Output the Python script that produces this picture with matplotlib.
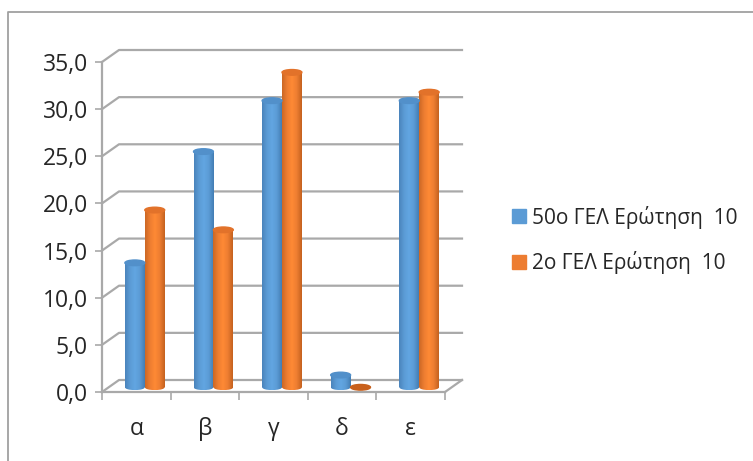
import numpy as np
import matplotlib
matplotlib.use('Agg')
import matplotlib.pyplot as plt
from matplotlib.colors import LinearSegmentedColormap
from matplotlib.patches import Ellipse, Patch
from matplotlib.lines import Line2D

plt.rcParams['font.family'] = ['Open Sans', 'DejaVu Sans']

categories = ['α', 'β', 'γ', 'δ', 'ε']
series_50 = [13.2, 25.0, 30.4, 1.3, 30.4]
series_2 = [18.8, 16.7, 33.4, 0.0, 31.3]
y_ticks = [0, 5, 10, 15, 20, 25, 30, 35]
y_labels = ['0,0', '5,0', '10,0', '15,0', '20,0', '25,0', '30,0', '35,0']
legend_labels = ['50ο ΓΕΛ Ερώτηση  10', '2ο ΓΕΛ Ερώτηση  10']

W, H = 753, 461
fig = plt.figure(figsize=(W / 100, H / 100), dpi=100)

# front plane of the fake 3d box
ax = fig.add_axes([102 / W, 1 - 392 / H, 343 / W, 330 / H])
ax.set_xlim(0, 5)
ax.set_ylim(0, 35)

# depth of the box in data units
depth_x = 17 / 68.6
depth_y = 12 / 9.43
grid_col = '#A9A9A9'

for v in y_ticks:
    ax.plot([0, depth_x, 5 + depth_x], [v, v + depth_y, v + depth_y], color=grid_col, lw=1.6, clip_on=False, zorder=1)
ax.plot([5, 5 + depth_x], [0, depth_y], color=grid_col, lw=1.6, clip_on=False, zorder=1)

blue = LinearSegmentedColormap.from_list('b', ['#4A84BC', '#5B9BD5', '#62A6E2', '#5B9BD5', '#437DB4'])
orange = LinearSegmentedColormap.from_list('o', ['#CC6825', '#ED7D31', '#FF8A35', '#ED7D31', '#C4621F'])
grad = np.linspace(0, 1, 64).reshape(1, -1)


def cylinder(x0, value, cmap, top_col):
    w = 0.29
    base = 0.5
    h = 0.6
    bot = Ellipse((x0 + w / 2, base), w, h, color='none', zorder=3)
    ax.add_patch(bot)
    im = ax.imshow(grad, extent=[x0, x0 + w, base - h / 2, base], cmap=cmap, aspect='auto', zorder=3)
    im.set_clip_path(bot)
    if value > 0:
        im = ax.imshow(grad, extent=[x0, x0 + w, base, base + value], cmap=cmap, aspect='auto', zorder=3)
        im.set_clip_on(False)
    ax.add_patch(Ellipse((x0 + w / 2, base + value), w, h, color=top_col, zorder=4, clip_on=False))


for i in range(len(categories)):
    x0 = i + 0.5 + depth_x / 2 - 0.29
    cylinder(x0, series_50[i], blue, '#5290CA')
    cylinder(x0 + 0.29, series_2[i], orange, '#C8601C' if series_2[i] == 0 else '#E2722A')

ax.set_xlim(0, 5)
ax.set_ylim(0, 35)

ax.set_xticks(range(6))
ax.set_xticklabels([])
ax.set_xticks(np.arange(5) + 0.5, categories, minor=True)
ax.set_yticks(y_ticks, y_labels)
ax.tick_params(axis='x', which='major', length=6, width=1.2, color=grid_col)
ax.tick_params(axis='x', which='minor', length=0, labelsize=16.5, pad=18, labelcolor='#262626')
ax.tick_params(axis='y', length=5, width=1.2, color=grid_col, labelsize=16.5, pad=5, labelcolor='#262626')
for s in ['top', 'right']:
    ax.spines[s].set_visible(False)
for s in ['left', 'bottom']:
    ax.spines[s].set_color(grid_col)
    ax.spines[s].set_linewidth(1.6)
    ax.spines[s].set_zorder(2)

handles = [Patch(color='#5B9BD5'), Patch(color='#ED7D31')]
fig.legend(handles, legend_labels, loc='center left', bbox_to_anchor=(512 / W, 1 - 240 / H), frameon=False,
           fontsize=15, labelcolor='#262626', handlelength=0.68, handleheight=0.68, handletextpad=0.3,
           labelspacing=1.1, borderpad=0, borderaxespad=0)

# outer chart border, only top and left are visible
fig.add_artist(Line2D([1, 8 / W, 8 / W], [1 - 12 / H, 1 - 12 / H, 0], color='#A0A0A0', lw=1.3))

fig.savefig('out.png', dpi=100)
